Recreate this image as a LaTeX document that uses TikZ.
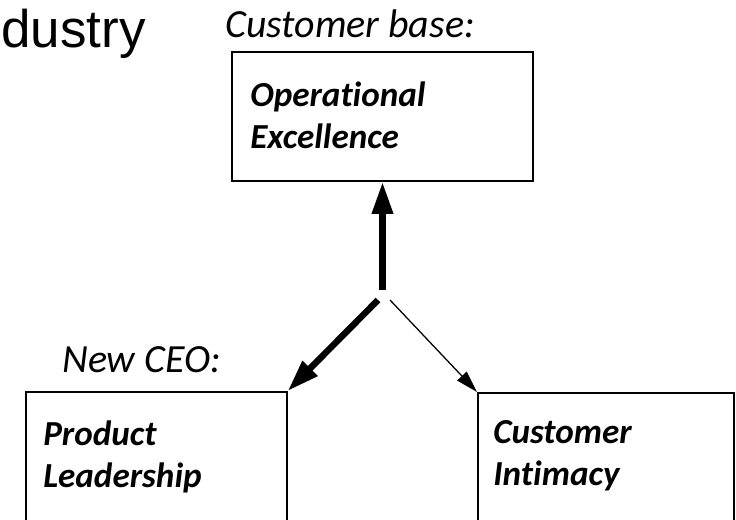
\documentclass[tikz,border=0pt]{standalone}
\usepackage{fontspec}
\setmainfont{Carlito}[Ligatures=NoCommon]
\newfontfamily\headfont{Liberation Sans}
\usetikzlibrary{arrows.meta,positioning}
\tikzset{
  strat box/.style  = {draw, line width=1.2pt, inner sep=0pt},
  box text/.style   = {font=\fontsize{25}{29.5}\selectfont\bfseries\itshape,
                       anchor=base west, align=left, inner sep=0pt},
  annot/.style      = {font=\fontsize{28.4}{33}\selectfont\itshape,
                       anchor=base west, inner sep=0pt},
  heavy arrow/.style= {-{Triangle[length=8mm,width=5mm]}, line width=4.6pt},
  light arrow/.style= {-{Triangle[length=5.5mm,width=3.2mm]}, line width=0.9pt},
}

\begin{document}
\begin{tikzpicture}
  \useasboundingbox (0,0) rectangle (18.4,12.975);
  \clip (0,0) rectangle (18.4,12.975);

  \node[font=\fontsize{37.7}{44}\selectfont\headfont,anchor=base west,inner sep=0pt]
    (title) at (0.03,11.8) {dustry};
  \node[annot] (custbase) at (5.625,12.05) {Customer base:};
  \node[annot] (newceo) at (1.55,3.675) {New CEO:};

  % the three strategies
  \node[strat box,minimum width=7.525cm,minimum height=3.225cm] (opex) at (9.5625,10.0625) {};
  \node[strat box,minimum width=6.525cm,minimum height=4cm,anchor=north west] (prodlead) at (0.625,3.2) {};
  \node[strat box,minimum width=6.4cm,minimum height=4cm,anchor=north west] (custint) at (11.925,3.175) {};

  % base anchor sits on the last line
  \node[box text] (opextext) at (6.25,9.275) {Operational\\Excellence};
  \node[box text] (prodtext) at (1.075,0.8) {Product\\Leadership};
  \node[box text] (custtext) at (12.325,0.85) {Customer\\Intimacy};

  \coordinate (hubtop) at (9.5625,5.725);
  \coordinate (hubleft) at (9.45,5.475);
  \coordinate (hubright) at (9.75,5.475);

  \draw[heavy arrow] (hubtop) -- (opex.south);
  \draw[heavy arrow] (hubleft) -- (prodlead.north east);
  \draw[light arrow] (hubright) -- (custint.north west);
\end{tikzpicture}
\end{document}
